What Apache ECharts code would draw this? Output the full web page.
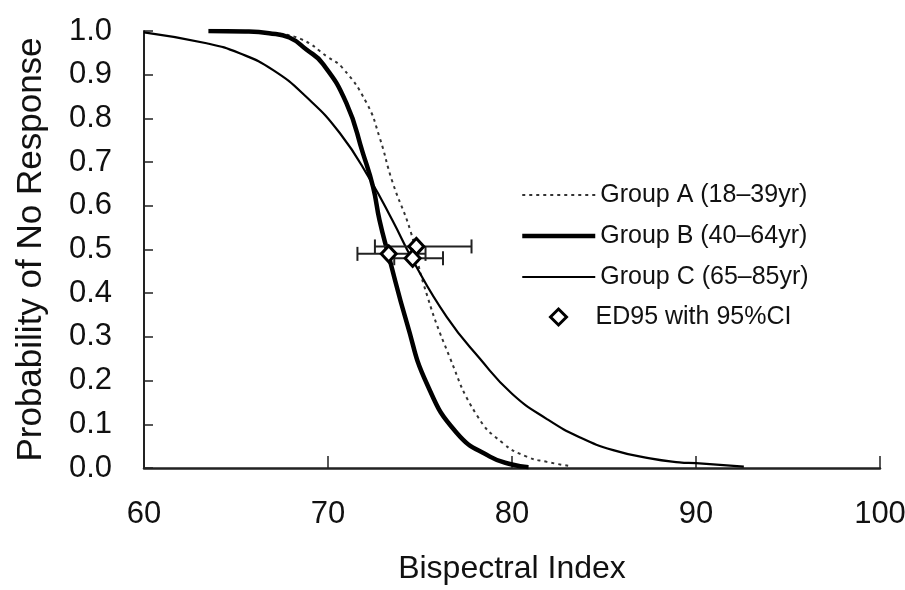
<!DOCTYPE html>
<html>
<head>
<meta charset="utf-8">
<script src="https://cdn.jsdelivr.net/npm/echarts@6/dist/echarts.min.js"></script>
<style>html,body{margin:0;padding:0;background:#fff;}#chart{width:905px;height:590px;}</style>
</head>
<body>
<div id="chart"></div>
<script>
// Group A (18-39yr) — dotted curve
const groupA_x = [67.0, 68.5, 70.0, 70.8, 72.1, 72.8, 73.5, 74.5, 75.2, 76.6, 78.1, 79.5, 80.8, 81.9, 83.2];
const groupA_y = [0.995, 0.982, 0.94, 0.915, 0.835, 0.757, 0.655, 0.54, 0.42, 0.255, 0.12, 0.057, 0.026, 0.014, 0.004];
// Group B (40-64yr) — thick curve
const groupB_x = [63.5, 65.5, 66.8, 67.9, 68.84, 69.7, 71.0, 71.9, 72.45, 72.8, 73.27, 74.3, 75.36, 77.0, 78.8, 80.0, 80.9];
const groupB_y = [1.0, 0.999, 0.995, 0.985, 0.957, 0.926, 0.835, 0.72, 0.643, 0.567, 0.49, 0.33, 0.194, 0.08, 0.026, 0.008, 0.002];
// Group C (65-85yr) — thin curve
const groupC_x = [60.0, 63.4, 65.2, 67.0, 68.8, 70.65, 72.3, 73.5, 74.6, 76.45, 78.26, 80.0, 81.9, 83.7, 85.5, 87.5, 89.1, 90.0, 92.6];
const groupC_y = [0.997, 0.972, 0.949, 0.911, 0.85, 0.766, 0.659, 0.567, 0.476, 0.346, 0.25, 0.17, 0.112, 0.07, 0.041, 0.022, 0.013, 0.011, 0.003];
// ED markers with 95% CI
const ed_x = [74.8, 73.3, 74.6];
const ed_y = [0.507, 0.49, 0.48];
const ci_low = [72.55, 71.6, 73.6];
const ci_high = [77.8, 75.3, 76.25];
// Axis ticks
const xTicks = [60, 70, 80, 90, 100];
const yTicks = [0, 0.1, 0.2, 0.3, 0.4, 0.5, 0.6, 0.7, 0.8, 0.9, 1.0];
const legendNames = ['Group A (18–39yr)', 'Group B (40–64yr)', 'Group C (65–85yr)', 'ED95 with 95%CI'];

const zip = (xs, ys) => xs.map((x, i) => [x, ys[i]]);
const FONT = "'Liberation Sans', Arial, sans-serif";
const legendText = {fontFamily: FONT, fontSize: 25, color: '#111', lineHeight: 26};

const chart = echarts.init(document.getElementById('chart'), null, {renderer: 'canvas'});
chart.setOption({
  animation: false,
  backgroundColor: '#fff',
  textStyle: {fontFamily: FONT, color: '#000'},
  grid: {left: 144, right: 25, top: 31, bottom: 122, containLabel: false, outerBoundsMode: 'none'},
  legend: [{
    orient: 'vertical',
    left: 515,
    top: 177,
    itemWidth: 73,
    itemHeight: 14,
    itemGap: 15,
    data: [
      {name: legendNames[0], itemStyle: {opacity: 0}, lineStyle: {width: 2, type: [3, 4], color: '#333'}},
      {name: legendNames[1], itemStyle: {opacity: 0}, lineStyle: {width: 4.5, color: '#000'}},
      {name: legendNames[2], itemStyle: {opacity: 0}, lineStyle: {width: 2.2, color: '#000'}}
    ],
    textStyle: legendText
  }, {
    orient: 'vertical',
    left: 544,
    top: 299,
    itemWidth: 16,
    itemHeight: 16,
    itemStyle: {borderWidth: 3, borderColor: '#000', color: '#fff'},
    data: [legendNames[3]],
    textStyle: Object.assign({}, legendText, {padding: [0, 0, 0, 24]})
  }],
  xAxis: {
    type: 'value',
    min: xTicks[0], max: xTicks[xTicks.length - 1], interval: 10,
    name: 'Bispectral Index', nameLocation: 'middle', nameGap: 85,
    nameTextStyle: {fontFamily: FONT, fontSize: 32, color: '#111'},
    axisLine: {lineStyle: {color: '#222', width: 2.5}},
    axisTick: {inside: true, length: 12, lineStyle: {color: '#222', width: 1.5}},
    axisLabel: {fontSize: 31, color: '#111', margin: 31, fontFamily: FONT},
    splitLine: {show: false}
  },
  yAxis: {
    type: 'value',
    min: yTicks[0], max: yTicks[yTicks.length - 1], interval: 0.1,
    name: 'Probability of No Response', nameLocation: 'middle', nameGap: 95,
    nameTextStyle: {fontFamily: FONT, fontSize: 35, color: '#111'},
    axisLine: {lineStyle: {color: '#222', width: 2}},
    axisTick: {inside: true, length: 9, lineStyle: {color: '#222', width: 1.5}},
    axisLabel: {fontSize: 31, color: '#111', margin: 32, fontFamily: FONT,
      formatter: v => v.toFixed(1)},
    splitLine: {show: false}
  },
  series: [
    {
      name: legendNames[0], type: 'line', symbol: 'none', smooth: 0.5,
      data: zip(groupA_x, groupA_y), z: 3,
      itemStyle: {color: '#333'},
      lineStyle: {color: '#333', width: 2, type: [3, 4]}
    },
    {
      name: legendNames[1], type: 'line', symbol: 'none', smooth: 0.5,
      data: zip(groupB_x, groupB_y), z: 4,
      itemStyle: {color: '#000'},
      lineStyle: {color: '#000', width: 4.5}
    },
    {
      name: legendNames[2], type: 'line', symbol: 'none', smooth: 0.5,
      data: zip(groupC_x, groupC_y), z: 3,
      itemStyle: {color: '#000'},
      lineStyle: {color: '#000', width: 2.2}
    },
    {
      name: 'CI', type: 'custom', z: 5,
      encode: {x: [0, 2, 3], y: 1},
      data: ed_x.map((x, i) => [x, ed_y[i], ci_low[i], ci_high[i]]),
      renderItem: function (params, api) {
        const y = api.value(1), lo = api.value(2), hi = api.value(3);
        const p1 = api.coord([lo, y]), p2 = api.coord([hi, y]);
        const h = 7;
        const st = {stroke: '#222', lineWidth: 2};
        return {type: 'group', children: [
          {type: 'line', shape: {x1: p1[0], y1: p1[1], x2: p2[0], y2: p2[1]}, style: st},
          {type: 'line', shape: {x1: p1[0], y1: p1[1] - h, x2: p1[0], y2: p1[1] + h}, style: st},
          {type: 'line', shape: {x1: p2[0], y1: p2[1] - h, x2: p2[0], y2: p2[1] + h}, style: st}
        ]};
      }
    },
    {
      name: legendNames[3], type: 'scatter', z: 6,
      symbol: 'diamond', symbolSize: [15, 16],
      data: zip(ed_x, ed_y),
      itemStyle: {color: '#fff', borderColor: '#000', borderWidth: 3, opacity: 1}
    }
  ]
});
</script>
</body>
</html>
